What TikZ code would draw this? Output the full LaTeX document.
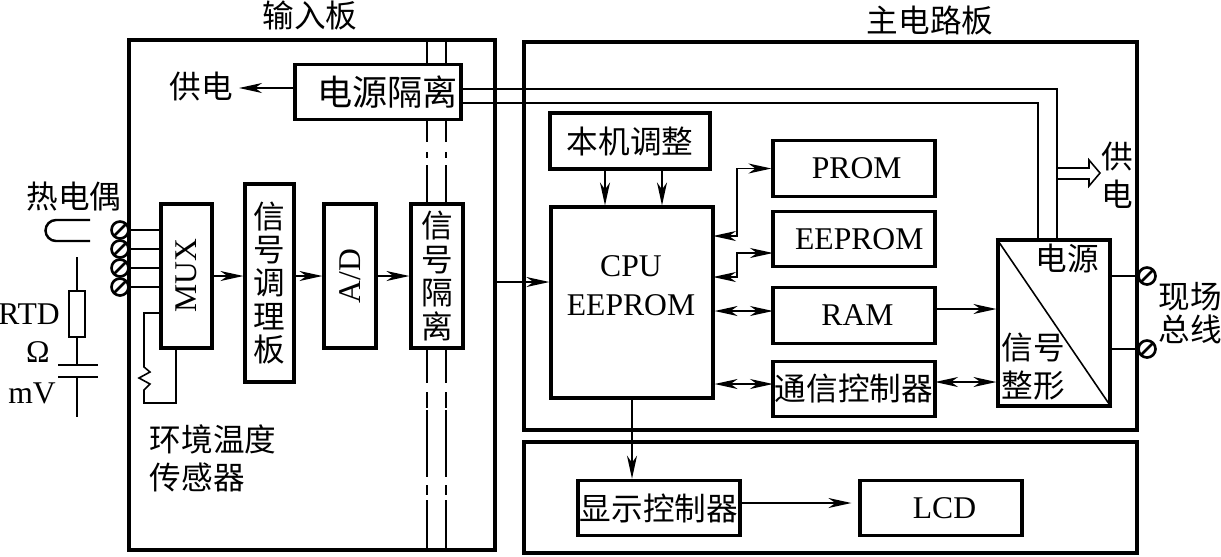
\documentclass[tikz,border=0pt]{standalone}
\usepackage{fontspec}
\setmainfont{Liberation Serif}
\newfontfamily\cjk{Noto Sans CJK SC}
\usetikzlibrary{positioning, arrows.meta, calc}

\begin{document}
\begin{tikzpicture}[
  x=0.02cm, y=-0.02cm,
  cn/.style={font=\fontsize{18}{19}\selectfont\cjk, align=center, inner sep=0pt},
  latin/.style={font=\fontsize{18}{20.5}\selectfont, align=center, inner sep=0pt},
  block/.style={draw, line width=1.8pt},
  wide/.style={block, minimum width=3.24cm, minimum height=1.11cm},
  tall/.style={block, minimum width=1.04cm, minimum height=2.88cm},
  board/.style={draw, line width=1.8pt, inner sep=0pt},
  wire/.style={line width=0.9pt},
  tip/.tip={Stealth[length=0.46cm, width=0.2cm, inset=0.14cm]},
  arrow/.style={wire, -tip},
  biarrow/.style={wire, tip-tip},
  term/.style={circle, draw, line width=1.5pt, minimum size=0.34cm, inner sep=0pt, fill=white,
    path picture={\draw[line width=1.5pt] (path picture bounding box.south west) -- (path picture bounding box.north east);}}
]
\useasboundingbox (0,0) rectangle (1221,556);

% Boards
\node[board, minimum width=7.32cm, minimum height=10.2cm] (inboard) at (312,295) {};
\node[board, minimum width=12.26cm, minimum height=7.76cm] (mainboard) at (830.5,236) {};
\node[board, minimum width=12.26cm, minimum height=2.22cm] (dispboard) at (830.5,497.5) {};
\node[cn] (inlabel) at (310,15) {输入板};
\node[cn] (mainlabel) at (930,20) {主电路板};

% Input board
\node[wide, cn, minimum width=3.32cm, font=\fontsize{20}{20}\selectfont\cjk] (psiso) at (378,92) {\hspace*{11pt}电源隔离};
\node[cn] (supplyl) at (201,87) {供电};
\node[tall, latin, minimum width=1.02cm] (mux) at (186.5,276) {\rotatebox{90}{MUX}};
\node[block, cn, minimum width=0.98cm, minimum height=3.96cm] (cond) at (269.5,283) {信\\号\\调\\理\\板};
\node[tall, latin] (adc) at (350,276) {\rotatebox{90}{A/D}};
\node[tall, cn] (sigiso) at (437,276) {\raisebox{-2pt}{信}\\\raisebox{-2pt}{号}\\\raisebox{-2pt}{隔}\\\raisebox{-2pt}{离}};
\node[cn, align=left] (tempsens) at (213,458) {环境温度\\[2.6pt]传感器};

% Isolation barrier
\foreach \xx in {427,446} {
  \foreach \ya/\yb in {40/64, 120/142, 152/158, 165/204, 348/383, 392/408, 410/477, 485/495, 500/550}
    \draw[wire] (\xx,\ya) -- (\xx,\yb);
}

% Main board
\node[wide, cn, minimum width=3.2cm, minimum height=1.12cm] (adjust) at (630,141) {本机调整};
\node[block, minimum width=3.24cm, minimum height=3.82cm] (cpu) at (632,302.5) {};
\node[latin] (cpul) at (631,286) {CPU\\[1.7pt]EEPROM};
\node[wide, latin] (prom) at (854,168.5) {\hspace*{3pt}\raisebox{1pt}{PROM}};
\node[wide, latin] (eeprom) at (854,239) {\hspace*{6pt}\raisebox{-2pt}{EEPROM}};
\node[wide, latin] (ram) at (854,315.5) {\hspace*{4pt}RAM};
\node[wide, cn] (comm) at (854,389) {通信控制器};
\node[block, minimum width=2.24cm, minimum height=3.32cm] (power) at (1054,323) {};
\draw[wire] (power.north west) -- (power.south east);
\node[cn] (powerl) at (1067,259) {电源};
\node[cn, align=left] (shapel) at (1033,367) {信号\\[2.6pt]整形};

% Display board
\node[wide, cn] (dispc) at (659,508) {显示控制器};
\node[wide, latin] (lcd) at (941,508) {\hspace*{4pt}LCD};

% Signal path
\draw[arrow] (mux.east) -- (mux.east -| cond.west);
\draw[arrow] (mux.east -| cond.east) -- (adc.west);
\draw[arrow] (adc.east) -- (sigiso.west);
\coordinate (sigout) at (inboard.east |- 0,282);
\draw[arrow] (sigout) -- (sigout -| cpu.west);
\coordinate (supplyend) at (239,88);
\draw[arrow] (supplyend -| psiso.west) -- (supplyend);

% Keypad to CPU
\coordinate (adja) at (605,169);
\coordinate (adjb) at (662,169);
\draw[arrow] (adja) -- (adja |- cpu.north);
\draw[arrow] (adjb) -- (adjb |- cpu.north);

% Memory and bus links
\coordinate (pa) at (713,236);
\coordinate (pb) at (737,236);
\coordinate (ea) at (713,277);
\coordinate (eb) at (737,277);
\coordinate (ee) at (773,253);
\coordinate (rl) at (773,311);
\coordinate (cl) at (773,384);
\draw[biarrow] (pa) -- (pb) |- (prom.west);
\draw[biarrow] (ea) -- (eb) |- (ee);
\draw[biarrow] (rl -| cpu.east) -- (rl);
\draw[biarrow] (cl -| cpu.east) -- (cl);
\coordinate (ra) at (935,309);
\draw[arrow] (ra) -- (ra -| power.west);
\coordinate (ca) at (935,382);
\draw[biarrow] (ca) -- (ca -| power.west);
\draw[arrow] (cpu.south) -- (cpu.south |- dispc.north);
\coordinate (da) at (740,503);
\draw[arrow, shorten >=0.14cm] (da) -- (da -| lcd.west);

% Supply rails
\coordinate (raila) at (461,89);
\coordinate (railb) at (461,103);
\draw[wire] (raila) -| (1057,240);
\draw[wire] (railb) -| (1038,240);
\coordinate (hollow) at (1057,173);
\draw[wire] ($(hollow)+(0,-5)$) -- ++(32,0) -- ++(0,-8) -- ($(hollow)+(43,0)$) -- ($(hollow)+(32,13)$) -- ++(0,-7) -- ++(-32,0);
\node[cn] (supplyr) at (1117,175) {供\\[2.6pt]电};

% Field bus terminals
\node[term] (busa) at (1147,276) {};
\node[term] (busb) at (1147,349) {};
\draw[wire] (power.east |- busa) -- (busa);
\draw[wire] (power.east |- busb) -- (busb);
\node[cn] (busl) at (1190,313) {现场\\总线};

% Sensor terminals
\foreach \yy/\tname in {230/ta, 249/tb, 268/tc, 287/td} {
  \node[term] (\tname) at (120,\yy) {};
  \draw[wire] (inboard.west |- \tname) -- (mux.west |- \tname);
}

% Ambient temperature sensor
\coordinate (rta) at (161,313);
\coordinate (rtb) at (176,348);
\draw[wire] (rta) -- (144,313) -- (144,367) -- (150,372) -- (139,378) -- (150,384) -- (144,390) -- (144,403) -- (176,403) -- (rtb);

% Thermocouple, RTD, voltage inputs
\node[cn] (tclabel) at (74,197) {热电偶};
\draw[line width=1.4pt] (90,220) -- (56,220) arc[start angle=90, end angle=270, radius=0.21cm] -- (90,241);
\node[draw, wire, minimum width=0.32cm, minimum height=0.92cm, inner sep=0pt] (rtd) at (77,314) {};
\coordinate (rtdtop) at (77,257);
\coordinate (capa) at (77,365);
\coordinate (capb) at (77,377);
\coordinate (vend) at (77,417);
\draw[wire] (rtdtop) -- (rtd.north);
\draw[wire] (rtd.south) -- (capa);
\draw[wire] (capb) -- (vend);
\draw[wire] ($(capa)+(-19,0)$) -- ($(capa)+(21,0)$);
\draw[wire] ($(capb)+(-19,0)$) -- ($(capb)+(21,0)$);
\node[latin] (rtdl) at (29,314) {RTD};
\node[latin] (ohml) at (38,352) {Ω};
\node[latin] (mvl) at (32,393) {mV};

\end{tikzpicture}
\end{document}
